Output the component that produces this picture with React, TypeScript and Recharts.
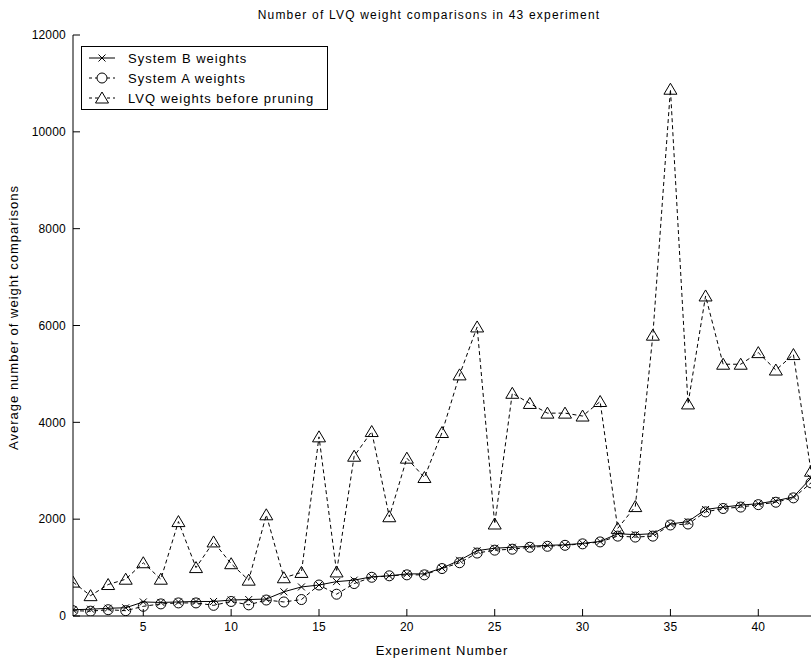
import React from 'react';
import { LineChart, Line, XAxis, YAxis, Legend, Label } from 'recharts';

const experiments = [1, 2, 3, 4, 5, 6, 7, 8, 9, 10, 11, 12, 13, 14, 15, 16, 17, 18, 19, 20, 21, 22, 23, 24, 25, 26, 27, 28, 29, 30, 31, 32, 33, 34, 35, 36, 37, 38, 39, 40, 41, 42, 43];
const systemB = [130, 140, 160, 170, 290, 280, 290, 300, 300, 330, 340, 350, 500, 600, 640, 710, 740, 810, 830, 870, 870, 990, 1150, 1350, 1400, 1420, 1440, 1460, 1470, 1500, 1540, 1700, 1680, 1700, 1900, 1950, 2200, 2250, 2290, 2320, 2380, 2460, 2850];
const systemA = [110, 100, 130, 110, 200, 250, 270, 270, 220, 300, 230, 330, 290, 340, 640, 450, 670, 800, 830, 850, 850, 980, 1100, 1300, 1360, 1380, 1420, 1440, 1460, 1490, 1530, 1650, 1630, 1650, 1880, 1900, 2150, 2220, 2250, 2300, 2350, 2440, 2750];
const lvqBefore = [700, 420, 650, 760, 1100, 760, 1950, 1000, 1530, 1080, 740, 2090, 790, 900, 3700, 910, 3300, 3810, 2050, 3260, 2860, 3790, 4980, 5970, 1900, 4600, 4390, 4190, 4190, 4130, 4430, 1810, 2260, 5800, 10880, 4380, 6610, 5200, 5200, 5440, 5080, 5400, 2990];
const xTicks = [5, 10, 15, 20, 25, 30, 35, 40];
const yTicks = [0, 2000, 4000, 6000, 8000, 10000, 12000];

const seriesNames = {
  b: 'System B weights',
  a: 'System A weights',
  lvq: 'LVQ weights before pruning',
};

const data = experiments.map((x, i) => ({ x, b: systemB[i], a: systemA[i], lvq: lvqBefore[i] }));

const FONT = '"Liberation Sans", Arial, Helvetica, sans-serif';
const INK = '#000';

const XMark = (props: any) => {
  const { cx, cy, index } = props;
  if (cx == null || cy == null) return <g key={`xm-${index}`} />;
  const s = 3.5;
  return (
    <g key={`xm-${index}`}>
      <line x1={cx - s} y1={cy - s} x2={cx + s} y2={cy + s} stroke={INK} strokeWidth={1} />
      <line x1={cx - s} y1={cy + s} x2={cx + s} y2={cy - s} stroke={INK} strokeWidth={1} />
    </g>
  );
};

const CircleMark = (props: any) => {
  const { cx, cy, index } = props;
  if (cx == null || cy == null) return <g key={`cm-${index}`} />;
  return <circle key={`cm-${index}`} cx={cx} cy={cy} r={5} fill="none" stroke={INK} strokeWidth={1} />;
};

const TriMark = (props: any) => {
  const { cx, cy, index } = props;
  if (cx == null || cy == null) return <g key={`tm-${index}`} />;
  const d = `M${cx},${cy - 6} L${cx + 6.5},${cy + 5} L${cx - 6.5},${cy + 5} Z`;
  return <path key={`tm-${index}`} d={d} fill="none" stroke={INK} strokeWidth={1} />;
};

const EmptyTick = () => <g />;

const LegendBox = () => {
  const rows = [
    { key: 'b', dash: undefined as string | undefined, marker: 'x' },
    { key: 'a', dash: '3 3', marker: 'o' },
    { key: 'lvq', dash: '3 3', marker: 't' },
  ];
  return (
    <div
      style={{
        width: 247,
        height: 64,
        border: '1px solid #000',
        background: '#fff',
        boxSizing: 'border-box',
        fontFamily: FONT,
        fontSize: 13,
        letterSpacing: 1,
        color: '#000',
        paddingTop: 1,
      }}
    >
      {rows.map((r) => (
        <div key={r.key} style={{ display: 'flex', alignItems: 'center', height: 20 }}>
          <svg width={40} height={20} style={{ display: 'block' }}>
            <line x1={7} y1={10} x2={33} y2={10} stroke={INK} strokeWidth={1} strokeDasharray={r.dash} />
            {r.marker === 'x' && (
              <g>
                <line x1={16.5} y1={6.5} x2={23.5} y2={13.5} stroke={INK} />
                <line x1={16.5} y1={13.5} x2={23.5} y2={6.5} stroke={INK} />
              </g>
            )}
            {r.marker === 'o' && <circle cx={20} cy={10} r={5} fill="#fff" stroke={INK} />}
            {r.marker === 't' && <path d="M20,4 L26.5,15 L13.5,15 Z" fill="#fff" stroke={INK} />}
          </svg>
          <span style={{ marginLeft: 6, whiteSpace: 'nowrap' }}>{(seriesNames as any)[r.key]}</span>
        </div>
      ))}
    </div>
  );
};

const YLabel = (props: any) => {
  const vb = props.viewBox || { x: 0, y: 35, width: 73, height: 581 };
  const cx = 13;
  const cy = vb.y + vb.height / 2 - 8;
  return (
    <text
      x={cx}
      y={cy}
      transform={`rotate(-90, ${cx}, ${cy})`}
      textAnchor="middle"
      dominantBaseline="central"
      fontFamily={FONT}
      fontSize={13}
      letterSpacing={1}
      fill={INK}
    >
      Average number of weight comparisons
    </text>
  );
};

const XLabel = (props: any) => {
  const vb = props.viewBox || { x: 73, y: 616, width: 738, height: 47 };
  const cx = vb.x + vb.width / 2;
  return (
    <text
      x={cx}
      y={650}
      textAnchor="middle"
      dominantBaseline="central"
      fontFamily={FONT}
      fontSize={13}
      letterSpacing={1}
      fill={INK}
    >
      Experiment Number
    </text>
  );
};

const tickStyle = { fontSize: 12, fill: INK, fontFamily: FONT, letterSpacing: 0.2 };

export default function App() {
  return (
    <div style={{ position: 'absolute', left: 0, top: 0, width: 812, height: 663, background: '#fff' }}>
      <div
        style={{
          position: 'absolute',
          left: 60,
          top: 7,
          width: 738,
          textAlign: 'center',
          fontFamily: FONT,
          fontSize: 12,
          letterSpacing: 1.2,
          color: INK,
          lineHeight: '16px',
        }}
      >
        Number of LVQ weight comparisons in 43 experiment
      </div>
      <LineChart width={812} height={663} data={data} margin={{ top: 35, right: 1, bottom: 0, left: 0 }}>
        <XAxis
          xAxisId="bottom"
          dataKey="x"
          type="number"
          domain={[1, 43]}
          ticks={xTicks}
          allowDataOverflow
          height={47}
          stroke={INK}
          tickSize={-7}
          tickMargin={13}
          tick={tickStyle}
          interval={0}
        >
          <Label content={XLabel} />
        </XAxis>
        <XAxis
          xAxisId="top"
          orientation="top"
          dataKey="x"
          type="number"
          domain={[1, 43]}
          ticks={xTicks}
          allowDataOverflow
          height={0}
          stroke={INK}
          tickSize={-7}
          tick={EmptyTick}
          interval={0}
        />
        <YAxis
          yAxisId="left"
          type="number"
          domain={[0, 12000]}
          ticks={yTicks}
          allowDataOverflow
          width={73}
          stroke={INK}
          tickSize={-7}
          tickMargin={14}
          tick={tickStyle}
          interval={0}
        >
          <Label content={YLabel} />
        </YAxis>
        <YAxis
          yAxisId="right"
          orientation="right"
          type="number"
          domain={[0, 12000]}
          ticks={yTicks}
          allowDataOverflow
          width={0}
          stroke={INK}
          tickSize={-7}
          tick={EmptyTick}
          interval={0}
        />
        <Legend
          layout="vertical"
          align="center"
          verticalAlign="middle"
          wrapperStyle={{ left: 81, top: 46, width: 247 }}
          content={LegendBox}
        />
        <Line
          xAxisId="bottom"
          yAxisId="left"
          type="linear"
          dataKey="b"
          name={seriesNames.b}
          stroke={INK}
          strokeWidth={1}
          dot={XMark}
          activeDot={false}
          isAnimationActive={false}
        />
        <Line
          xAxisId="bottom"
          yAxisId="left"
          type="linear"
          dataKey="a"
          name={seriesNames.a}
          stroke={INK}
          strokeWidth={1}
          strokeDasharray="4 3"
          dot={CircleMark}
          activeDot={false}
          isAnimationActive={false}
        />
        <Line
          xAxisId="bottom"
          yAxisId="left"
          type="linear"
          dataKey="lvq"
          name={seriesNames.lvq}
          stroke={INK}
          strokeWidth={1}
          strokeDasharray="4 3"
          dot={TriMark}
          activeDot={false}
          isAnimationActive={false}
        />
      </LineChart>
    </div>
  );
}
